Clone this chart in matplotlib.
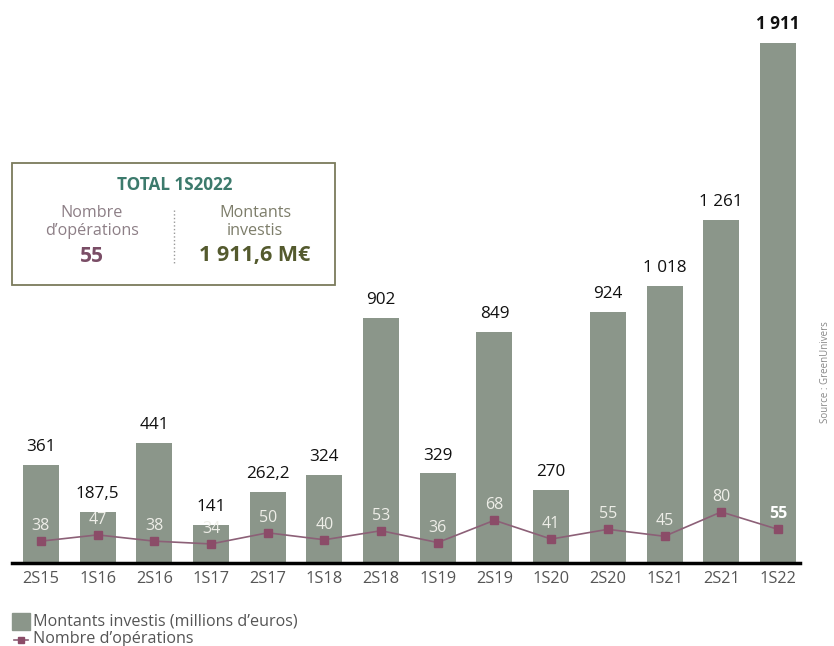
import matplotlib.pyplot as plt
from matplotlib.patches import Rectangle
from matplotlib.lines import Line2D

plt.rcParams['font.family'] = ['Open Sans', 'DejaVu Sans']

periodes = ['2S15', '1S16', '2S16', '1S17', '2S17', '1S18', '2S18',
            '1S19', '2S19', '1S20', '2S20', '1S21', '2S21', '1S22']
montants = [361, 187.5, 441, 141, 262.2, 324, 902, 329, 849, 270, 924, 1018, 1261, 1911]
montants_lbl = ['361', '187,5', '441', '141', '262,2', '324', '902', '329', '849',
                '270', '924', '1 018', '1 261', '1 911']
operations = [38, 47, 38, 34, 50, 40, 53, 36, 68, 41, 55, 45, 80, 55]

bar_col = '#8b968a'
line_col = '#8c6077'
mark_col = '#8b4c68'

fig = plt.figure(figsize=(8.34, 6.46), dpi=100)
ax = fig.add_axes([12/834, 83/646, 788/834, 543/646])
x = list(range(len(periodes)))

ax.bar(x, montants, width=0.635, color=bar_col, zorder=2)
ax.set_xlim(-0.51, 13.39)
ax.set_ylim(0, 1996)
for i, (v, l) in enumerate(zip(montants, montants_lbl)):
    last = i == len(montants) - 1
    ax.annotate(l, (i, v), xytext=(0, 7), textcoords='offset points',
                ha='center', va='bottom', fontsize=12.3, color='#111111',
                fontweight='bold' if last else 'normal')

for s in ['top', 'right', 'left']:
    ax.spines[s].set_visible(False)
ax.spines['bottom'].set_linewidth(2.5)
ax.spines['bottom'].set_color('black')
ax.set_yticks([])
ax.set_xticks(x)
ax.set_xticklabels(periodes, fontsize=11.8, color='#555555')
ax.tick_params(axis='x', length=0, pad=6)

ax2 = ax.twinx()
ax2.set_ylim(6.6, 787)
ax2.axis('off')
ax2.plot(x, operations, color=line_col, lw=1.2, marker='s', markersize=6,
         markerfacecolor=mark_col, markeredgecolor=mark_col, zorder=3)
for i, v in enumerate(operations):
    last = i == len(operations) - 1
    ax2.annotate(str(v), (i, v), xytext=(0, 5), textcoords='offset points',
                 ha='center', va='bottom', fontsize=11.5,
                 color='white' if last else '#eeeee8',
                 fontweight='bold' if last else 'normal')

# encadré total
fig.patches.append(Rectangle((12/834, 1 - 285/646), 323/834, 122/646,
                             transform=fig.transFigure, fill=False,
                             edgecolor='#7b7b5c', lw=1.3))
fig.text(175/834, 1 - 185/646, 'TOTAL 1S2022', ha='center', va='center',
         fontsize=12.3, fontweight='bold', color='#3c7a6c')
fig.text(92/834, 1 - 222/646, 'Nombre\nd\u2019opérations', ha='center', va='center',
         fontsize=11.6, color='#8d7f86', linespacing=1.1)
fig.text(92/834, 1 - 257/646, '55', ha='center', va='center',
         fontsize=15, fontweight='bold', color='#7a4d66')
fig.text(255/834, 1 - 222/646, 'Montants\ninvestis', ha='center', va='center',
         fontsize=11.6, color='#7d7d6a', linespacing=1.1)
fig.text(255/834, 1 - 256/646, '1 911,6 M\u20ac', ha='center', va='center',
         fontsize=15.5, fontweight='bold', color='#545a2e')
fig.add_artist(Line2D([174/834, 174/834], [1 - 210/646, 1 - 263/646],
                      transform=fig.transFigure, color='#999999', lw=1, ls=':'))

# légende
fig.patches.append(Rectangle((12/834, 1 - 630/646), 18/834, 17/646,
                             transform=fig.transFigure, color=bar_col))
fig.text(33/834, 1 - 621/646, 'Montants investis (millions d\u2019euros)',
         va='center', fontsize=11.6, color='#555555')
fig.add_artist(Line2D([14/834, 28/834], [1 - 640/646, 1 - 640/646],
                      transform=fig.transFigure, color=line_col, lw=1.2))
fig.add_artist(Line2D([21/834], [1 - 640/646], transform=fig.transFigure,
                      marker='s', markersize=5, color=mark_col))
fig.text(33/834, 1 - 639/646, 'Nombre d\u2019opérations',
         va='center', fontsize=11.6, color='#555555')

fig.text(826/834, 1 - 372/646, 'Source : GreenUnivers', rotation=90,
         ha='center', va='center', fontsize=7, color='#888888')

fig.savefig('out.png', dpi=100)
